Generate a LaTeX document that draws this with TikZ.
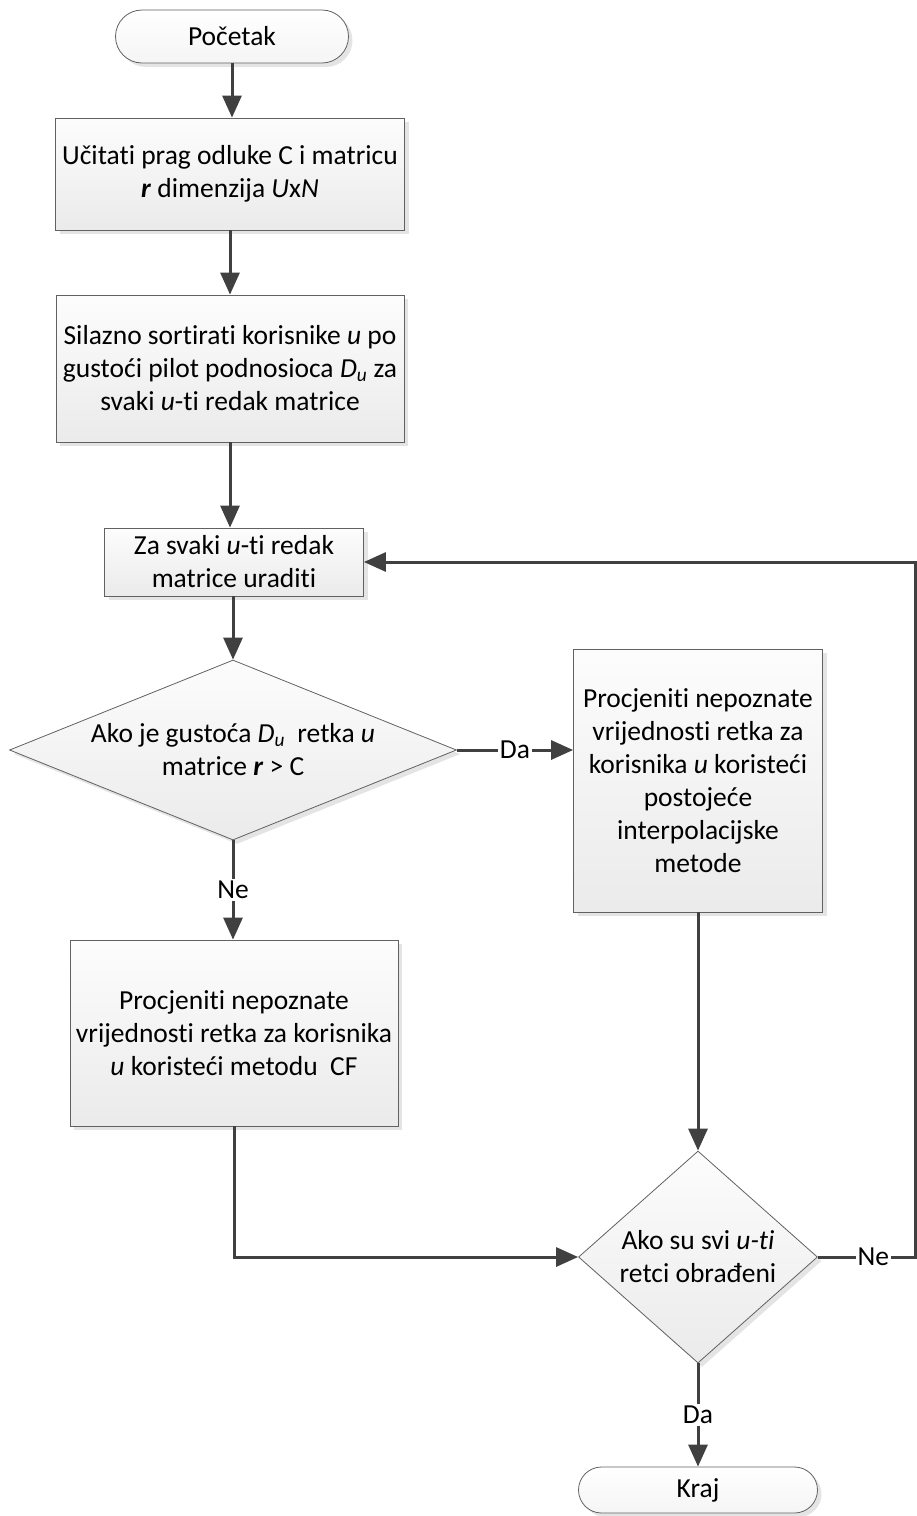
\documentclass[tikz,border=0pt]{standalone}
\usepackage{fontspec}
\setmainfont{Carlito}[Ligatures={NoCommon,NoRequired,NoContextual}]
\usetikzlibrary{shapes.geometric,shapes.misc,arrows.meta,shadows}
\begin{document}
\begin{tikzpicture}[x=1pt,y=-1pt,
  font=\fontsize{27.5}{33}\selectfont,
  every node/.style={align=center},
  shadowed/.style={drop shadow={shadow xshift=4pt,shadow yshift=-4pt,fill=black!15,opacity=0.7}},
  proc/.style={rectangle,draw=black!62,line width=0.8pt,top color=black!1,bottom color=black!8,inner sep=0pt,shadowed},
  term/.style={rounded rectangle,draw=black!62,line width=0.8pt,top color=white,bottom color=black!4,inner sep=0pt,shadowed},
  dec/.style={diamond,draw=black!62,line width=0.8pt,top color=black!1,bottom color=black!8,inner sep=0pt,shadowed},
  conn/.style={draw=black!75,line width=3pt,-{Triangle[length=22pt,width=19pt]}},
  lbl/.style={fill=white,inner sep=2pt,text=black}
]
\useasboundingbox (0,0) rectangle (917,1516);

\node[term,minimum width=233pt,minimum height=53pt] (start) at (232,36.5) {Početak};
\node[proc,minimum width=349pt,minimum height=112pt] (b1) at (230,174) {Učitati prag odluke C i matricu\\ \textbf{\textit{r}} dimenzija \textit{U}x\textit{N}};
\node[proc,minimum width=348pt,minimum height=147pt] (b2) at (230,368.5) {Silazno sortirati korisnike \textit{u} po\\ gustoći pilot podnosioca \textit{D\textsubscript{u}} za\\ svaki \textit{u}-ti redak matrice};
\node[proc,minimum width=259pt,minimum height=68pt] (b3) at (234,562) {Za svaki \textit{u}-ti redak\\ matrice uraditi};
\node[dec,minimum width=447pt,minimum height=180pt,aspect=2.48] (d1) at (233,750) {Ako je gustoća \textit{D\textsubscript{u}}~ retka \textit{u}\\ matrice \textbf{\textit{r}} > C};
\node[proc,minimum width=249pt,minimum height=263pt] (b5) at (698,780.5) {Procjeniti nepoznate\\ vrijednosti retka za\\ korisnika \textit{u} koristeći\\ postojeće\\ interpolacijske\\ metode};
\node[proc,minimum width=328pt,minimum height=186pt] (b4) at (234,1033) {Procjeniti nepoznate\\ vrijednosti retka za korisnika\\ \textit{u} koristeći metodu~ CF};
\node[dec,minimum width=239pt,minimum height=212pt,aspect=1.13] (d2) at (698,1257) {Ako su svi \textit{u-ti}\\ retci obrađeni};
\node[term,minimum width=239pt,minimum height=46pt] (kraj) at (698,1490) {Kraj};

\coordinate (r1) at (915,1257);
\coordinate (r2) at (915,562);

\draw[conn] (start.south) -- (start.south |- b1.north);
\draw[conn] (b1.south) -- (b1.south |- b2.north);
\draw[conn] (b2.south) -- (b2.south |- b3.north);
\draw[conn] (b3.south -| d1.north) -- (d1.north);
\draw[conn] (d1.east) -- node[lbl]{Da} (d1.east -| b5.west);
\draw[conn] (d1.south) -- node[lbl]{Ne} (d1.south |- b4.north);
\draw[conn] (b5.south -| d2.north) -- (d2.north);
\draw[conn] (b4.south) |- (d2.west);
\draw[conn] (d2.south) -- node[lbl]{Da} (kraj.north);
\draw[conn] (d2.east) -- node[lbl,pos=0.57]{Ne} (r1) -- (r2) -- (b3.east);
\end{tikzpicture}
\end{document}
